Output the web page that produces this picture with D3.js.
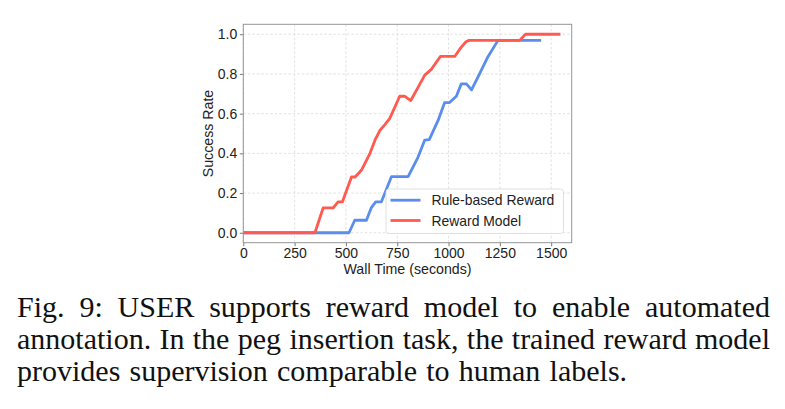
<!DOCTYPE html>
<html><head><meta charset="utf-8">
<script src="https://cdn.jsdelivr.net/npm/d3@7"></script>
<style>html,body{margin:0;padding:0;background:#fff;}svg{display:block;}</style>
</head><body>
<svg id="c" width="785" height="409"></svg>
<script>
// ---- data ----
const xTicks = [0, 250, 500, 750, 1000, 1250, 1500];
const yTicks = [0.0, 0.2, 0.4, 0.6, 0.8, 1.0];
const seriesNames = ["Rule-based Reward", "Reward Model"];
const ruleTime = [0, 515, 543, 600, 624, 645, 673, 722, 803, 851, 884, 906, 949, 981, 1005, 1038, 1062, 1087, 1112, 1151, 1192, 1241, 1451];
const ruleRate = [0, 0, 0.063, 0.063, 0.127, 0.156, 0.156, 0.283, 0.283, 0.38, 0.467, 0.469, 0.566, 0.656, 0.656, 0.688, 0.75, 0.75, 0.72, 0.80, 0.887, 0.969, 0.969];
const rmTime = [0, 349, 389, 438, 462, 483, 527, 545, 576, 616, 641, 665, 690, 713, 762, 787, 816, 850, 884, 916, 960, 1030, 1062, 1085, 1100, 1346, 1375, 1545];
const rmRate = [0, 0, 0.125, 0.125, 0.156, 0.156, 0.281, 0.281, 0.316, 0.397, 0.465, 0.515, 0.545, 0.575, 0.6875, 0.6875, 0.666, 0.73, 0.794, 0.823, 0.888, 0.888, 0.935, 0.962, 0.969, 0.969, 1.0, 1.0];
const captionLines = [
  "Fig. 9: USER supports reward model to enable automated",
  "annotation. In the peg insertion task, the trained reward model",
  "provides supervision comparable to human labels."
];

const colors = ["#5b8ded", "#ff5a50"];
const svg = d3.select("#c");
const L = 243.3, T = 24.3, W = 328.4, H = 218.4;
const x = d3.scaleLinear().domain([0, 1600]).range([L, L + W]);
const y = d3.scaleLinear().domain([-0.05, 1.05]).range([T + H, T]);

// grid
const g = svg.append("g");
g.selectAll("line.gx").data(xTicks).enter().append("line")
  .attr("x1", d => x(d)).attr("x2", d => x(d)).attr("y1", T).attr("y2", T + H)
  .attr("stroke", "#d9d9d9").attr("stroke-width", 0.8).attr("stroke-dasharray", "2.5,2");
g.selectAll("line.gy").data(yTicks).enter().append("line")
  .attr("y1", d => y(d)).attr("y2", d => y(d)).attr("x1", L).attr("x2", L + W)
  .attr("stroke", "#d9d9d9").attr("stroke-width", 0.8).attr("stroke-dasharray", "2.5,2");

// axes
const fontAx = "'Liberation Sans', Arial, sans-serif";
const xAxis = svg.append("g").attr("transform", `translate(0,${T + H})`)
  .call(d3.axisBottom(x).tickValues(xTicks).tickFormat(d3.format("d")).tickSize(3.5).tickPadding(1.5));
const yAxis = svg.append("g").attr("transform", `translate(${L},0)`)
  .call(d3.axisLeft(y).tickValues(yTicks).tickFormat(d3.format(".1f")).tickSize(3.5).tickPadding(2.5));
[xAxis, yAxis].forEach(a => {
  a.select(".domain").remove();
  a.selectAll(".tick line").attr("stroke", "#555").attr("stroke-width", 0.8);
  a.selectAll(".tick text").attr("fill", "#222").style("font-family", fontAx).style("font-size", "14px");
});

// lines
const line = d3.line().x(d => x(d[0])).y(d => y(d[1]));
const series = [d3.zip(ruleTime, ruleRate), d3.zip(rmTime, rmRate)];
series.forEach((s, i) => {
  svg.append("path").datum(s).attr("d", line).attr("fill", "none")
    .attr("stroke", colors[i]).attr("stroke-width", 2.8)
    .attr("stroke-linejoin", "round").attr("stroke-linecap", "butt");
});

// spines
svg.append("rect").attr("x", L).attr("y", T).attr("width", W).attr("height", H)
  .attr("fill", "none").attr("stroke", "#959595").attr("stroke-width", 1);

// axis labels
svg.append("text").attr("x", L + W / 2).attr("y", 274).attr("text-anchor", "middle")
  .style("font-family", fontAx).style("font-size", "14.2px").attr("fill", "#222").text("Wall Time (seconds)");
svg.append("text").attr("transform", `translate(213,${T + H / 2}) rotate(-90)`).attr("text-anchor", "middle")
  .style("font-family", fontAx).style("font-size", "14.2px").attr("fill", "#222").text("Success Rate");

// legend
const lg = svg.append("g");
lg.append("rect").attr("x", 386).attr("y", 189).attr("width", 177.5).attr("height", 44.5).attr("rx", 3)
  .attr("fill", "#fff").attr("fill-opacity", 0.85).attr("stroke", "#dcdcdc").attr("stroke-width", 0.9);
seriesNames.forEach((n, i) => {
  const yy = 200.2 + i * 20.3;
  lg.append("line").attr("x1", 390.5).attr("x2", 420.5).attr("y1", yy).attr("y2", yy)
    .attr("stroke", colors[i]).attr("stroke-width", 2.8);
  lg.append("text").attr("x", 431.5).attr("y", yy + 5).style("font-family", fontAx).style("font-size", "13.9px")
    .attr("fill", "#222").text(n);
});

// caption (justified first lines)
const capFont = "'Liberation Serif', 'Times New Roman', serif";
const capLeft = 17, capRight = 770, baselines = [317, 349, 381];
captionLines.forEach((ln, i) => {
  const words = ln.split(" ");
  const grp = svg.append("g");
  const nodes = words.map(w => grp.append("text").attr("y", baselines[i])
    .style("font-family", capFont).style("font-size", "30px").attr("fill", "#111").text(w));
  const widths = nodes.map(n => n.node().getComputedTextLength());
  const total = d3.sum(widths);
  const justify = i < captionLines.length - 1;
  const gap = justify ? (capRight - capLeft - total) / (words.length - 1) : 9.2;
  let cx = capLeft;
  nodes.forEach((n, k) => { n.attr("x", cx); cx += widths[k] + gap; });
});
</script>
</body></html>
